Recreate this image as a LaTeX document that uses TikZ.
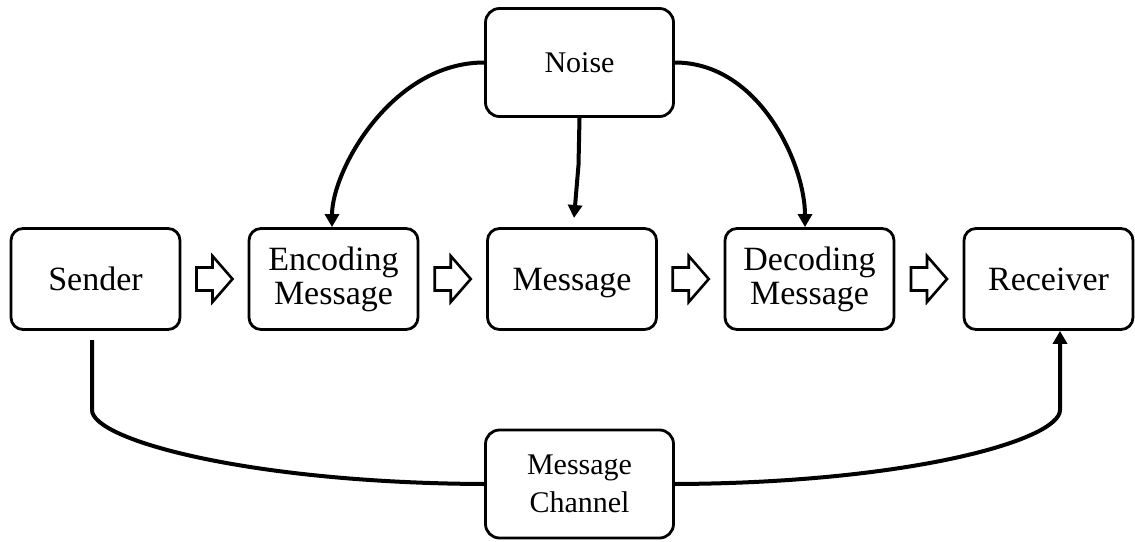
\documentclass[tikz,border=0pt]{standalone}
\usepackage{fontspec}
\setmainfont{Liberation Serif}
\usetikzlibrary{arrows.meta,calc}
\begin{document}
\begin{tikzpicture}[x=1pt,y=-1pt,
  box/.style={draw, line width=2.8pt, rounded corners=12pt, minimum width=169pt,
    minimum height=101pt, inner sep=0pt, align=center, font=\fontsize{34}{34}\selectfont},
  onebox/.style={box, text depth=0pt},
  smallbox/.style={box, rounded corners=14pt, minimum width=188pt, minimum height=108pt,
    font=\fontsize{30}{38}\selectfont},
  conn/.style={line width=4pt, -{Triangle[length=13pt,width=14pt]}},
  plainconn/.style={line width=4pt},
  blockarrow/.pic={\draw[line width=2.6pt, line join=miter]
    (-18,-11.5) -- (-2,-11.5) -- (-2,-23) -- (18,0) -- (-2,23) -- (-2,11.5) -- (-18,11.5) -- cycle;}
]
\useasboundingbox (0,0) rectangle (1135,541);

\node[onebox] (sender) at (95.5,279) {Sender};
\node[box] (enc) at (333.5,279) {Encoding\\Message};
\node[onebox] (msg) at (572,279) {Message};
\node[box] (dec) at (809.5,279) {Decoding\\Message};
\node[onebox] (rec) at (1048.5,279) {Receiver};
\node[smallbox] (noise) at (579.5,62.5) {Noise};
\node[smallbox] (chan) at (579.5,484) {Message\\Channel};

\pic at ($(sender.east)!0.5!(enc.west)$) {blockarrow};
\pic at ($(enc.east)!0.5!(msg.west)$) {blockarrow};
\pic at ($(msg.east)!0.5!(dec.west)$) {blockarrow};
\pic at ($(dec.east)!0.5!(rec.west)$) {blockarrow};

\coordinate (enctip) at ($(enc.north)+(-1.5,0)$);
\coordinate (dectip) at ($(dec.north)+(-4.5,0)$);
\coordinate (mtip) at (574,218);
\coordinate (mbend) at (578.5,165);
\coordinate (s0) at (92,340);
\coordinate (rtip) at ($(rec.south)+(11.5,0)$);

\draw[conn] (noise.west) .. controls +(-92,0) and +(0,-57) .. (enctip);
\draw[conn] (noise.east) .. controls +(85,0) and +(0,-62) .. (dectip);
\draw[conn] (noise.south) -- (mbend) -- (mtip);

\draw[plainconn] (s0) -- (92,410) .. controls (92,440) and (250,483) .. (chan.west);
\draw[conn] (chan.east) .. controls (909,483) and (1060,440) .. (1060,410) -- (rtip);
\end{tikzpicture}
\end{document}
